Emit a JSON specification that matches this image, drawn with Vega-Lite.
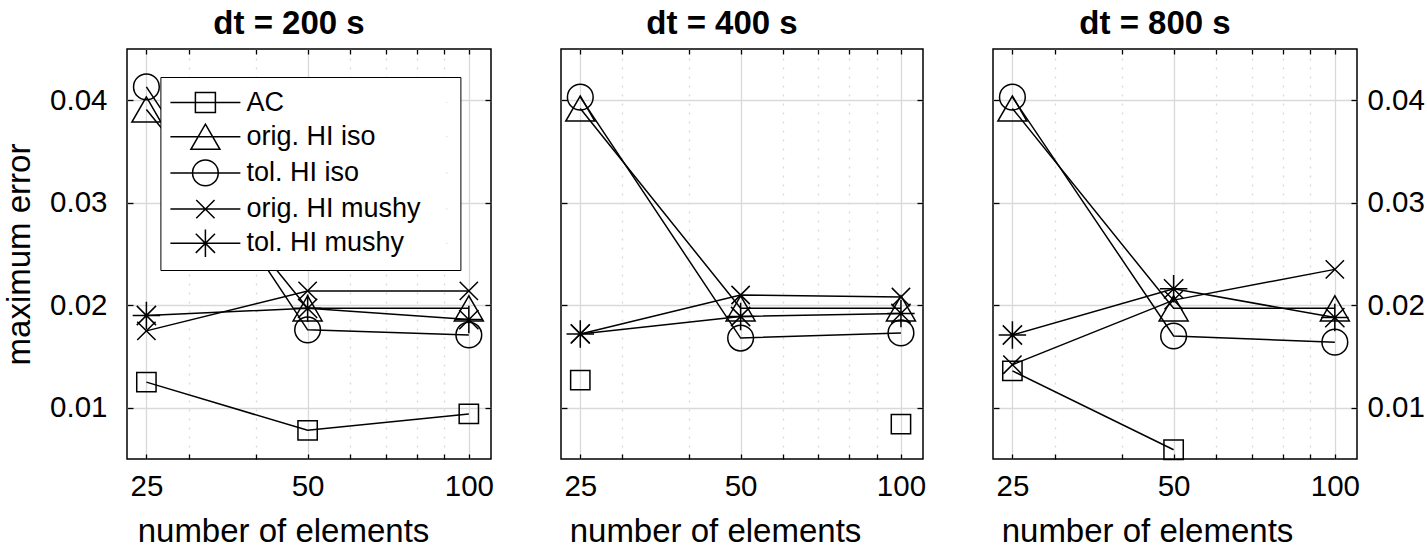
{
  "$schema": "https://vega.github.io/schema/vega-lite/v6.json",
  "background": "white",
  "padding": {"left": 2, "top": 7, "right": 5, "bottom": 5},
  "spacing": 70,
  "bounds": "flush",
  "config": {
    "font": "Liberation Sans",
    "view": {"stroke": "black", "strokeWidth": 1.5},
    "title": {"fontSize": 33, "fontWeight": "bold", "color": "black", "offset": 7, "dx": -20},
    "axis": {"labelColor": "black", "titleColor": "black", "labelFontSize": 29.5, "titleFontSize": 33, "titleFontWeight": "normal", "tickColor": "black", "tickWidth": 1.3, "domain": false, "labelFlush": false}
  },
  "data": {"values": [
    {"dt": 200, "n": 25, "method": "AC", "err": 0.0125},
    {"dt": 200, "n": 50, "method": "AC", "err": 0.0078},
    {"dt": 200, "n": 100, "method": "AC", "err": 0.0094},
    {"dt": 200, "n": 25, "method": "orig. HI iso", "err": 0.0391},
    {"dt": 200, "n": 50, "method": "orig. HI iso", "err": 0.0197},
    {"dt": 200, "n": 100, "method": "orig. HI iso", "err": 0.0197},
    {"dt": 200, "n": 25, "method": "tol. HI iso", "err": 0.0413},
    {"dt": 200, "n": 50, "method": "tol. HI iso", "err": 0.0176},
    {"dt": 200, "n": 100, "method": "tol. HI iso", "err": 0.0171},
    {"dt": 200, "n": 25, "method": "orig. HI mushy", "err": 0.0175},
    {"dt": 200, "n": 50, "method": "orig. HI mushy", "err": 0.0214},
    {"dt": 200, "n": 100, "method": "orig. HI mushy", "err": 0.0214},
    {"dt": 200, "n": 25, "method": "tol. HI mushy", "err": 0.0190},
    {"dt": 200, "n": 50, "method": "tol. HI mushy", "err": 0.0197},
    {"dt": 200, "n": 100, "method": "tol. HI mushy", "err": 0.0186},
    {"dt": 400, "n": 25, "method": "AC", "err": 0.0127},
    {"dt": 400, "n": 50, "method": "AC", "err": null},
    {"dt": 400, "n": 100, "method": "AC", "err": 0.0084},
    {"dt": 400, "n": 25, "method": "orig. HI iso", "err": 0.0392},
    {"dt": 400, "n": 50, "method": "orig. HI iso", "err": 0.0197},
    {"dt": 400, "n": 100, "method": "orig. HI iso", "err": 0.0197},
    {"dt": 400, "n": 25, "method": "tol. HI iso", "err": 0.0403},
    {"dt": 400, "n": 50, "method": "tol. HI iso", "err": 0.0168},
    {"dt": 400, "n": 100, "method": "tol. HI iso", "err": 0.0173},
    {"dt": 400, "n": 25, "method": "orig. HI mushy", "err": 0.0172},
    {"dt": 400, "n": 50, "method": "orig. HI mushy", "err": 0.0210},
    {"dt": 400, "n": 100, "method": "orig. HI mushy", "err": 0.0208},
    {"dt": 400, "n": 25, "method": "tol. HI mushy", "err": 0.0172},
    {"dt": 400, "n": 50, "method": "tol. HI mushy", "err": 0.0189},
    {"dt": 400, "n": 100, "method": "tol. HI mushy", "err": 0.0192},
    {"dt": 800, "n": 25, "method": "AC", "err": 0.0136},
    {"dt": 800, "n": 50, "method": "AC", "err": 0.0059},
    {"dt": 800, "n": 100, "method": "AC", "err": null},
    {"dt": 800, "n": 25, "method": "orig. HI iso", "err": 0.0392},
    {"dt": 800, "n": 50, "method": "orig. HI iso", "err": 0.0197},
    {"dt": 800, "n": 100, "method": "orig. HI iso", "err": 0.0197},
    {"dt": 800, "n": 25, "method": "tol. HI iso", "err": 0.0403},
    {"dt": 800, "n": 50, "method": "tol. HI iso", "err": 0.0170},
    {"dt": 800, "n": 100, "method": "tol. HI iso", "err": 0.0164},
    {"dt": 800, "n": 25, "method": "orig. HI mushy", "err": 0.0142},
    {"dt": 800, "n": 50, "method": "orig. HI mushy", "err": 0.0205},
    {"dt": 800, "n": 100, "method": "orig. HI mushy", "err": 0.0235},
    {"dt": 800, "n": 25, "method": "tol. HI mushy", "err": 0.0171},
    {"dt": 800, "n": 50, "method": "tol. HI mushy", "err": 0.0216},
    {"dt": 800, "n": 100, "method": "tol. HI mushy", "err": 0.0188}
  ]},
  "hconcat": [
    {
      "width": 364, "height": 410,
      "title": "dt = 200 s",
      "transform": [{"filter": "datum.dt == 200"}],
      "layer": [
        {
          "mark": {"type": "line", "color": "black", "strokeWidth": 1.5, "invalid": "break-paths-show-domains"},
          "encoding": {
            "x": {"field": "n", "type": "quantitative", "scale": {"type": "log", "domain": [23, 110], "nice": false},
              "axis": {"orient": "bottom", "values": [25, 30, 40, 50, 60, 70, 80, 90, 100], "format": "d",
                "labelExpr": "indexof([25,50,100], datum.value) >= 0 ? datum.label : ''",
                "grid": true, "gridColor": "#d9d9d9", "gridWidth": 1.3,
                "gridDash": {"condition": {"test": "indexof([25,50,100], datum.value) >= 0", "value": []}, "value": [2, 7]},
                "tickSize": -5, "labelPadding": 18, "title": "number of elements", "titlePadding": 15, "titleX": 156}},
            "y": {"field": "err", "type": "quantitative", "scale": {"domain": [0.005, 0.045], "nice": false, "zero": false},
              "axis": {"orient": "left", "values": [0.01, 0.02, 0.03, 0.04], "format": ".2f", "grid": true, "gridColor": "#d9d9d9", "gridWidth": 1.3,
                "tickSize": -6, "labelPadding": 26, "title": "maximum error", "titlePadding": 13}},
            "detail": {"field": "method"}
          }
        },
        {
          "mark": {"type": "point", "filled": false, "color": "black", "strokeWidth": 1.5, "opacity": 1},
          "encoding": {
            "x": {"field": "n", "type": "quantitative", "axis": {"orient": "top", "values": [25, 30, 40, 50, 60, 70, 80, 90, 100], "labels": false, "grid": false, "tickSize": -5, "title": null}},
            "y": {"field": "err", "type": "quantitative", "axis": {"orient": "right", "values": [0.01, 0.02, 0.03, 0.04], "labels": false, "grid": false, "tickSize": -6, "title": null}},
            "shape": {"condition": [
              {"test": "datum.method === 'AC'", "value": "square"},
              {"test": "datum.method === 'orig. HI iso'", "value": "triangle-up"},
              {"test": "datum.method === 'tol. HI iso'", "value": "circle"},
              {"test": "datum.method === 'orig. HI mushy'", "value": "M-1,-1L1,1M-1,1L1,-1"}
            ], "value": "M-1,0L1,0M0,-1L0,1M-0.7,-0.7L0.7,0.7M-0.7,0.7L0.7,-0.7"},
            "size": {"condition": [
              {"test": "datum.method === 'AC'", "value": 373},
              {"test": "datum.method === 'orig. HI iso'", "value": 841},
              {"test": "datum.method === 'tol. HI iso'", "value": 660},
              {"test": "datum.method === 'orig. HI mushy'", "value": 335}
            ], "value": 756}
          }
        },
        {
          "mark": {"type": "point", "filled": false, "color": "black", "strokeWidth": 1.5, "opacity": 0},
          "encoding": {
            "x": {"field": "n", "type": "quantitative", "axis": null},
            "y": {"field": "err", "type": "quantitative", "axis": null},
            "shape": {"field": "method", "type": "nominal",
              "scale": {"domain": ["AC", "orig. HI iso", "tol. HI iso", "orig. HI mushy", "tol. HI mushy"],
                "range": [
                  "M-2.333,0L2.333,0M-0.667,-0.667L0.667,-0.667L0.667,0.667L-0.667,0.667ZM16.1,0L16.11,0",
                  "M-2.333,0L2.333,0M0,-0.837L0.967,0.837L-0.967,0.837ZM16.1,0L16.11,0",
                  "M-2.333,0L2.333,0M0.857,0A0.857,0.857,0,1,1,-0.857,0A0.857,0.857,0,1,1,0.857,0ZM16.1,0L16.11,0",
                  "M-2.333,0L2.333,0M-0.61,-0.61L0.61,0.61M-0.61,0.61L0.61,-0.61M16.1,0L16.11,0",
                  "M-2.333,0L2.333,0M0,-0.917L0,0.917M-0.64,-0.64L0.64,0.64M-0.64,0.64L0.64,-0.64M16.1,0L16.11,0"
                ]},
              "legend": {"orient": "none", "legendX": 33.4, "legendY": 28, "title": null, "padding": 9.5,
                "strokeColor": "black", "fillColor": "white", "labelFontSize": 27, "labelColor": "black", "labelLimit": 0,
                "symbolSize": 900, "symbolStrokeWidth": 1.5, "symbolStrokeColor": "black", "symbolFillColor": "transparent", "symbolOpacity": 1,
                "symbolOffset": 19.5, "labelOffset": 25, "rowPadding": 4.2}}
          }
        }
      ],
      "resolve": {"axis": {"x": "independent", "y": "independent"}}
    },
    {
      "width": 362, "height": 410,
      "title": "dt = 400 s",
      "transform": [{"filter": "datum.dt == 400"}],
      "layer": [
        {
          "mark": {"type": "line", "color": "black", "strokeWidth": 1.5, "invalid": "break-paths-show-domains"},
          "encoding": {
            "x": {"field": "n", "type": "quantitative", "scale": {"type": "log", "domain": [23, 110], "nice": false},
              "axis": {"orient": "bottom", "values": [25, 30, 40, 50, 60, 70, 80, 90, 100], "format": "d",
                "labelExpr": "indexof([25,50,100], datum.value) >= 0 ? datum.label : ''",
                "grid": true, "gridColor": "#d9d9d9", "gridWidth": 1.3,
                "gridDash": {"condition": {"test": "indexof([25,50,100], datum.value) >= 0", "value": []}, "value": [2, 7]},
                "tickSize": -5, "labelPadding": 18, "title": "number of elements", "titlePadding": 15, "titleX": 154}},
            "y": {"field": "err", "type": "quantitative", "scale": {"domain": [0.005, 0.045], "nice": false, "zero": false},
              "axis": {"orient": "left", "values": [0.01, 0.02, 0.03, 0.04], "labels": false, "grid": true, "gridColor": "#d9d9d9", "gridWidth": 1.3,
                "tickSize": -6, "title": null}},
            "detail": {"field": "method"}
          }
        },
        {
          "mark": {"type": "point", "filled": false, "color": "black", "strokeWidth": 1.5, "opacity": 1},
          "encoding": {
            "x": {"field": "n", "type": "quantitative", "axis": {"orient": "top", "values": [25, 30, 40, 50, 60, 70, 80, 90, 100], "labels": false, "grid": false, "tickSize": -5, "title": null}},
            "y": {"field": "err", "type": "quantitative", "axis": {"orient": "right", "values": [0.01, 0.02, 0.03, 0.04], "labels": false, "grid": false, "tickSize": -6, "title": null}},
            "shape": {"condition": [
              {"test": "datum.method === 'AC'", "value": "square"},
              {"test": "datum.method === 'orig. HI iso'", "value": "triangle-up"},
              {"test": "datum.method === 'tol. HI iso'", "value": "circle"},
              {"test": "datum.method === 'orig. HI mushy'", "value": "M-1,-1L1,1M-1,1L1,-1"}
            ], "value": "M-1,0L1,0M0,-1L0,1M-0.7,-0.7L0.7,0.7M-0.7,0.7L0.7,-0.7"},
            "size": {"condition": [
              {"test": "datum.method === 'AC'", "value": 373},
              {"test": "datum.method === 'orig. HI iso'", "value": 841},
              {"test": "datum.method === 'tol. HI iso'", "value": 660},
              {"test": "datum.method === 'orig. HI mushy'", "value": 335}
            ], "value": 756}
          }
        }
      ],
      "resolve": {"axis": {"x": "independent", "y": "independent"}}
    },
    {
      "width": 364, "height": 410,
      "title": "dt = 800 s",
      "transform": [{"filter": "datum.dt == 800"}],
      "layer": [
        {
          "mark": {"type": "line", "color": "black", "strokeWidth": 1.5, "invalid": "break-paths-show-domains"},
          "encoding": {
            "x": {"field": "n", "type": "quantitative", "scale": {"type": "log", "domain": [23, 110], "nice": false},
              "axis": {"orient": "bottom", "values": [25, 30, 40, 50, 60, 70, 80, 90, 100], "format": "d",
                "labelExpr": "indexof([25,50,100], datum.value) >= 0 ? datum.label : ''",
                "grid": true, "gridColor": "#d9d9d9", "gridWidth": 1.3,
                "gridDash": {"condition": {"test": "indexof([25,50,100], datum.value) >= 0", "value": []}, "value": [2, 7]},
                "tickSize": -5, "labelPadding": 18, "title": "number of elements", "titlePadding": 15, "titleX": 154}},
            "y": {"field": "err", "type": "quantitative", "scale": {"domain": [0.005, 0.045], "nice": false, "zero": false},
              "axis": {"orient": "right", "values": [0.01, 0.02, 0.03, 0.04], "format": ".2f", "grid": true, "gridColor": "#d9d9d9", "gridWidth": 1.3,
                "tickSize": -6, "labelPadding": 16, "title": null}},
            "detail": {"field": "method"}
          }
        },
        {
          "mark": {"type": "point", "filled": false, "color": "black", "strokeWidth": 1.5, "opacity": 1},
          "encoding": {
            "x": {"field": "n", "type": "quantitative", "axis": {"orient": "top", "values": [25, 30, 40, 50, 60, 70, 80, 90, 100], "labels": false, "grid": false, "tickSize": -5, "title": null}},
            "y": {"field": "err", "type": "quantitative", "axis": {"orient": "left", "values": [0.01, 0.02, 0.03, 0.04], "labels": false, "grid": false, "tickSize": -6, "title": null}},
            "shape": {"condition": [
              {"test": "datum.method === 'AC'", "value": "square"},
              {"test": "datum.method === 'orig. HI iso'", "value": "triangle-up"},
              {"test": "datum.method === 'tol. HI iso'", "value": "circle"},
              {"test": "datum.method === 'orig. HI mushy'", "value": "M-1,-1L1,1M-1,1L1,-1"}
            ], "value": "M-1,0L1,0M0,-1L0,1M-0.7,-0.7L0.7,0.7M-0.7,0.7L0.7,-0.7"},
            "size": {"condition": [
              {"test": "datum.method === 'AC'", "value": 373},
              {"test": "datum.method === 'orig. HI iso'", "value": 841},
              {"test": "datum.method === 'tol. HI iso'", "value": 660},
              {"test": "datum.method === 'orig. HI mushy'", "value": 335}
            ], "value": 756}
          }
        }
      ],
      "resolve": {"axis": {"x": "independent", "y": "independent"}}
    }
  ]
}
